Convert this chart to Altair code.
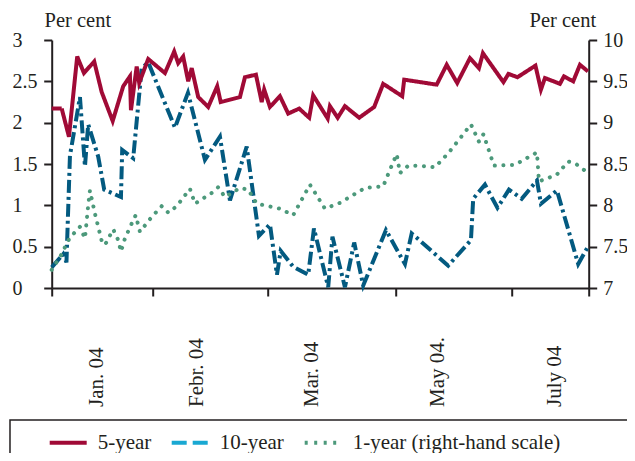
import altair as alt
import pandas as pd

FONT = "Liberation Serif"
INK = "#231f20"
RED = "#a00a36"
BLUE = "#035a80"
CYAN = "#19a8d2"
GREEN = "#4c997b"

# x position along the time axis (trading-day scale, 0 = start of chart)
red_t = [0, 4.0, 6.9, 10.2, 12.9, 17.0, 20.0, 24.4, 28.6, 31.3, 31.7, 34.0, 35.0, 38.6, 45.3,
         49.0, 50.6, 52.6, 54.6, 56.0, 58.6, 62.6, 66.2, 67.6, 75.3, 77.3, 81.7, 84.0, 85.0, 87.3,
         91.3, 94.6, 99.0, 103.0, 104.6, 110.4, 111.3, 114.4, 117.3, 123.0, 129.0, 132.6, 140.2, 141.0, 154.0,
         158.0, 162.2, 167.3, 170.9, 172.5, 180.7, 182.7, 186.3, 193.5, 195.7, 197.3, 203.3, 204.9, 208.6, 211.3,
         214.5]
red_v = [2.17, 2.17, 1.83, 2.80, 2.60, 2.74, 2.37, 2.02, 2.44, 2.56, 2.15, 2.68, 2.48, 2.77, 2.60,
         2.86, 2.72, 2.80, 2.50, 2.66, 2.31, 2.19, 2.44, 2.25, 2.31, 2.55, 2.58, 2.25, 2.40, 2.19,
         2.32, 2.11, 2.17, 2.06, 2.33, 2.05, 2.20, 2.06, 2.20, 2.06, 2.19, 2.47, 2.32, 2.52, 2.46,
         2.70, 2.48, 2.78, 2.66, 2.84, 2.49, 2.59, 2.55, 2.69, 2.40, 2.54, 2.47, 2.56, 2.50, 2.70,
         2.62]

blue_t = [0, 4.6, 5.9, 7.3, 11.3, 13.3, 14.6, 18.6, 21.0, 27.7, 28.2, 32.6, 36.0, 38.6, 49.3,
          54.5, 61.3, 67.3, 71.3, 78.0, 82.9, 87.3, 90.1, 91.6, 96.5, 102.6, 104.9, 110.6, 112.3, 117.3,
          121.0, 124.6, 133.7, 141.3, 144.0, 158.6, 167.7, 168.6, 173.3, 178.3, 182.9, 188.0, 194.1, 195.7, 202.1,
          210.6, 214.5]
blue_v = [0.25, 0.41, 0.31, 1.60, 2.31, 1.47, 1.98, 1.59, 1.19, 1.10, 1.67, 1.57, 2.66, 2.73, 1.94,
          2.36, 1.55, 1.83, 1.06, 1.71, 0.63, 0.77, 0.16, 0.45, 0.26, 0.16, 0.72, 0.01, 0.62, 0.01,
          0.55, 0.03, 0.70, 0.29, 0.66, 0.27, 0.58, 1.08, 1.25, 0.97, 1.19, 1.08, 1.30, 1.02, 1.18,
          0.29, 0.50]

green_t = [0, 4.0, 5.7, 7.3, 11.3, 13.3, 14.6, 15.3, 17.3, 20.0, 21.3, 24.6, 26.6, 27.7, 29.3,
           32.0, 33.6, 35.3, 40.0, 44.0, 46.7, 50.0, 55.3, 57.3, 64.0, 66.6, 69.3, 75.3, 78.6, 82.0,
           91.3, 96.6, 103.3, 109.3, 115.3, 125.3, 132.6, 135.3, 138.0, 139.3, 142.6, 146.6, 153.3, 158.6, 163.3,
           167.7, 170.9, 172.7, 176.9, 185.3, 194.1, 194.9, 202.0, 206.6, 209.3, 213.3]
green_v = [7.22, 7.41, 7.52, 7.61, 7.74, 7.60, 8.00, 8.18, 7.90, 7.57, 7.52, 7.71, 7.58, 7.44, 7.60,
           7.78, 7.88, 7.68, 7.86, 7.99, 7.91, 7.99, 8.20, 8.02, 8.15, 8.22, 8.10, 8.21, 8.19, 8.02,
           7.96, 7.88, 8.25, 7.96, 8.03, 8.21, 8.23, 8.43, 8.62, 8.39, 8.48, 8.48, 8.46, 8.63, 8.81,
           8.98, 8.77, 8.86, 8.48, 8.49, 8.64, 8.29, 8.37, 8.53, 8.51, 8.42]

series_names = ["5-year", "10-year", "1-year (right-hand scale)"]
x_ticks = [0, 40.3, 86.5, 137.5, 184.0, 214.8]
month_labels = ["Jan. 04", "Febr. 04", "Mar. 04", "May 04.", "July 04"]
month_pos = [18.1, 58.1, 104.1, 154.5, 201.3]
left_ticks = [0, 0.5, 1, 1.5, 2, 2.5, 3]
right_ticks = [7, 7.5, 8, 8.5, 9, 9.5, 10]

df_red = pd.DataFrame({"t": red_t, "v": red_v, "series": series_names[0]})
df_blue = pd.DataFrame({"t": blue_t, "v": blue_v, "series": series_names[1]})
df_green = pd.DataFrame({"t": green_t, "v": green_v, "series": series_names[2]})
df_lab = pd.DataFrame({"t": month_pos, "label": month_labels})

xscale = alt.Scale(domain=[0, 214.8], nice=False, zero=False)
xaxis = alt.Axis(values=x_ticks, labels=False, title=None, tickSize=8, tickWidth=2,
                 tickColor=INK, domainColor=INK, domainWidth=2, grid=False)


def yaxis(orient, values, pad, title_x):
    return alt.Axis(orient=orient, values=values, format="~g", tickSize=8, tickWidth=2,
                    tickColor=INK, domainColor=INK, domainWidth=2, grid=False,
                    labelAlign="left", labelBaseline="middle", labelPadding=pad,
                    labelFont=FONT, labelFontSize=20, labelColor=INK, labelOverlap=False,
                    title="Per cent", titleAngle=0, titleX=title_x, titleY=-14,
                    titleAlign="left", titleBaseline="alphabetic", titleFont=FONT,
                    titleFontSize=20.5, titleFontWeight="normal", titleColor=INK)


left_axis = yaxis("left", left_ticks, 31.7, -7.7)
right_axis = yaxis("right", right_ticks, 6, -59.7)
left_scale = alt.Scale(domain=[0, 3], nice=False, zero=False)
right_scale = alt.Scale(domain=[7, 10], nice=False, zero=False)

legend = alt.Legend(title=None, orient="none", legendX=-4, legendY=382, direction="horizontal",
                    columns=3, symbolType="stroke", symbolSize=1369, symbolStrokeWidth=4,
                    labelFont=FONT, labelFontSize=21, labelColor=INK, labelLimit=600,
                    labelOffset=9, columnPadding=12, padding=0, symbolOpacity=1)

color_scale = alt.Scale(domain=series_names, range=[RED, CYAN, GREEN])
dash_scale = alt.Scale(domain=series_names, range=[[1, 0], [15, 6], [3, 6.5]])

box = alt.Chart(pd.DataFrame({"k": [0]})).mark_rect(
    fill="white", fillOpacity=0, stroke=INK, strokeWidth=1.5
).encode(x=alt.value(-41.7), x2=alt.value(640), y=alt.value(380), y2=alt.value(470))

red = alt.Chart(df_red).mark_line(strokeWidth=4, strokeJoin="miter").encode(
    x=alt.X("t:Q", scale=xscale, axis=xaxis),
    y=alt.Y("v:Q", scale=left_scale, axis=left_axis),
    color=alt.Color("series:N", scale=color_scale, legend=legend),
    strokeDash=alt.StrokeDash("series:N", scale=dash_scale, legend=legend),
)

blue = alt.Chart(df_blue).mark_line(strokeWidth=4, strokeJoin="miter").encode(
    x=alt.X("t:Q", scale=xscale, axis=xaxis),
    y=alt.Y("v:Q", scale=left_scale, axis=left_axis),
    color=alt.value(BLUE),
    strokeDash=alt.value([13, 4, 3, 4]),
)

labels = alt.Chart(df_lab).mark_text(
    angle=270, align="left", baseline="middle", font=FONT, fontSize=21, color=INK
).encode(
    x=alt.X("t:Q", scale=xscale, axis=xaxis),
    y=alt.value(367),
    text="label:N",
)

green = alt.Chart(df_green).mark_line(strokeWidth=4, strokeCap="round").encode(
    x=alt.X("t:Q", scale=xscale, axis=xaxis),
    y=alt.Y("v:Q", scale=right_scale, axis=right_axis),
    color=alt.value(GREEN),
    strokeDash=alt.value([0.1, 8.5]),
)

left = alt.layer(box, blue, red, labels)

chart = alt.layer(left, green).resolve_scale(y="independent").properties(
    width=537, height=248,
    autosize=alt.AutoSizeParams(type="none"),
    padding={"left": 43.7, "top": 32, "right": 38.3, "bottom": 165},
    background="white",
).configure_view(strokeWidth=0)

chart.save("out.html", embed_options={"renderer": "svg", "actions": False})
